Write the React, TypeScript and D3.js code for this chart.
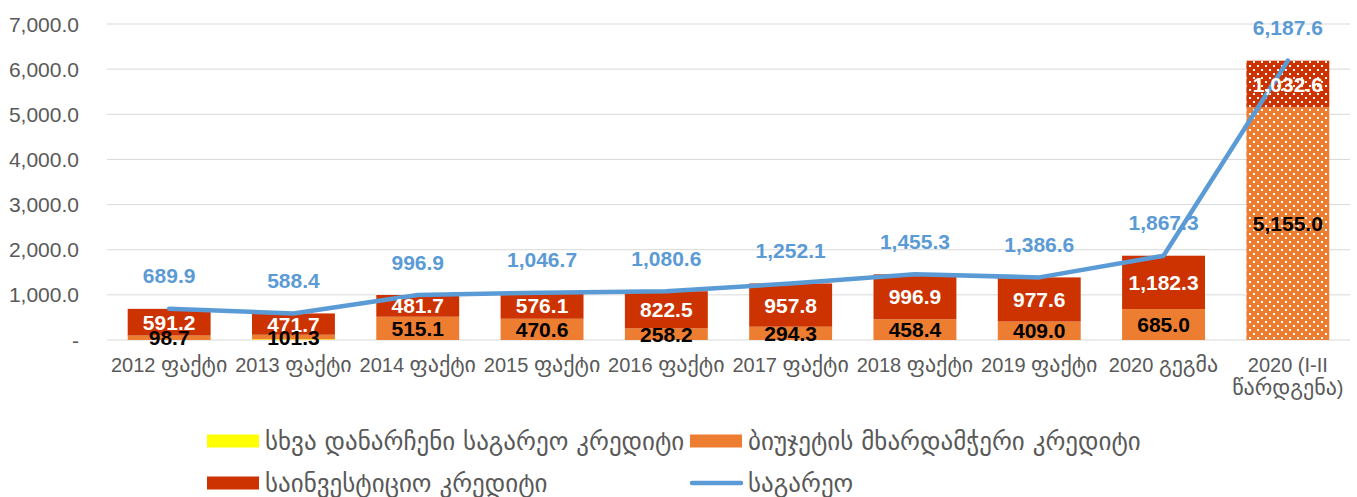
import React from "react";
import * as d3 from "d3";

const categories = [
  "2012 ფაქტი",
  "2013 ფაქტი",
  "2014 ფაქტი",
  "2015 ფაქტი",
  "2016 ფაქტი",
  "2017 ფაქტი",
  "2018 ფაქტი",
  "2019 ფაქტი",
  "2020 გეგმა",
  "2020 (I-II\nწარდგენა)",
];
const otherCredit = [0, 15.4, 0, 0, 0, 0, 0, 0, 0, 0];
const budgetCredit = [98.7, 101.3, 515.1, 470.6, 258.2, 294.3, 458.4, 409.0, 685.0, 5155.0];
const investCredit = [591.2, 471.7, 481.7, 576.1, 822.5, 957.8, 996.9, 977.6, 1182.3, 1032.6];
const totalExternal = [689.9, 588.4, 996.9, 1046.7, 1080.6, 1252.1, 1455.3, 1386.6, 1867.3, 6187.6];
const yTicks = [0, 1000, 2000, 3000, 4000, 5000, 6000, 7000];
const patternedIndex = [9];

const legendLabels = [
  "სხვა დანარჩენი საგარეო კრედიტი",
  "ბიუჯეტის მხარდამჭერი კრედიტი",
  "საინვესტიციო კრედიტი",
  "საგარეო",
];
const legendColors = ["#FFFF00", "#ED7D31", "#CC3300", "#5B9BD5"];
const legendTypes = ["rect", "rect", "rect", "line"];

const W = 1357;
const H = 497;
const FONT = "'Liberation Sans', Arial, 'DejaVu Sans', sans-serif";
const GEO_FONT = "'DejaVu Sans', sans-serif";
const fmt = d3.format(",.1f");

function runs(s: string) {
  const out: { t: string; geo: boolean }[] = [];
  for (const ch of s) {
    const geo = /[\u10A0-\u10FF]/.test(ch);
    const last = out[out.length - 1];
    if (last && last.geo === geo) last.t += ch;
    else out.push({ t: ch, geo });
  }
  return out;
}

export default function App() {
  const x = d3.scaleBand<string>().domain(categories).range([107, 1350]).paddingInner(0.333).paddingOuter(0.1665);
  const y = d3.scaleLinear().domain([0, 7000]).range([340, 24]);
  const bw = x.bandwidth();

  const seriesList = [
    { key: "other", values: otherCredit, color: "#FFFF00", labelColor: null as string | null },
    { key: "budget", values: budgetCredit, color: "#ED7D31", labelColor: "#000000" },
    { key: "invest", values: investCredit, color: "#CC3300", labelColor: "#FFFFFF" },
  ];
  const table = categories.map((c, i) => ({ c, other: otherCredit[i], budget: budgetCredit[i], invest: investCredit[i] }));
  const stack = d3.stack<any>().keys(seriesList.map((s) => s.key));
  const stacked = stack(table);
  const labelOrder = [2, 1];

  const cxOf = (i: number) => (x(categories[i]) as number) + bw / 2;
  const line = d3
    .line<number>()
    .x((_, i) => cxOf(i))
    .y((d) => y(d));

  return (
    <svg width={W} height={H} style={{ position: "absolute", left: 0, top: 0 }} fontFamily={FONT}>
      <defs>
        <pattern id="dots" width="8" height="8" patternUnits="userSpaceOnUse" x="0" y="0">
          <rect x="1" y="1" width="2" height="2" fill="#FFFFFF" />
          <rect x="5" y="5" width="2" height="2" fill="#FFFFFF" />
        </pattern>
      </defs>
      <rect width={W} height={H} fill="#FFFFFF" />
      {yTicks.map((t) => (
        <g key={t}>
          <line x1={107} x2={1350} y1={y(t)} y2={y(t)} stroke="#D9D9D9" strokeWidth={1} />
          <text x={79} y={y(t)} dy="0.36em" textAnchor="end" fontSize={21} fill="#595959">
            {t === 0 ? "-" : fmt(t)}
          </text>
        </g>
      ))}
      {stacked.map((layer, si) => {
        const s = seriesList[si];
        return (
          <g key={s.key}>
            {layer.map((d, i) => {
              const x0 = x(categories[i]) as number;
              const y0 = y(d[0]);
              const y1 = y(d[1]);
              const h = y0 - y1;
              if (h <= 0) return null;
              return (
                <g key={i}>
                  <rect x={x0} y={y1} width={bw} height={h} fill={s.color} />
                  {patternedIndex.includes(i) && <rect x={x0} y={y1} width={bw} height={h} fill="url(#dots)" />}
                </g>
              );
            })}
          </g>
        );
      })}
      <path d={line(totalExternal) as string} fill="none" stroke="#5B9BD5" strokeWidth={4.5} strokeLinejoin="round" strokeLinecap="round" />
      {labelOrder.map((si) => {
        const s = seriesList[si];
        const layer = stacked[si];
        return (
          <g key={s.key + "-lbl"}>
            {layer.map((d, i) => {
              const cy = (y(d[0]) + y(d[1])) / 2;
              return (
                <text key={i} x={cxOf(i)} y={cy} dy="0.36em" textAnchor="middle" fontSize={21} fontWeight="bold" fill={s.labelColor as string}>
                  {fmt(s.values[i])}
                </text>
              );
            })}
          </g>
        );
      })}
      {totalExternal.map((v, i) => (
        <text key={i} x={cxOf(i)} y={y(v) - 33} dy="0.36em" textAnchor="middle" fontSize={21} fontWeight="bold" fill="#5B9BD5">
          {fmt(v)}
        </text>
      ))}
      {categories.map((c, i) => {
        const lines = c.split("\n");
        return (
          <g key={c}>
            {lines.map((l, j) => (
              <text key={j} x={cxOf(i)} y={365 + j * 23} dy="0.36em" textAnchor="middle" fontSize={20} fill="#595959">
                {runs(l).map((r, k) =>
                  r.geo ? (
                    <tspan key={k} fontFamily={GEO_FONT} fontSize={22}>
                      {r.t}
                    </tspan>
                  ) : (
                    <tspan key={k}>{r.t}</tspan>
                  )
                )}
              </text>
            ))}
          </g>
        );
      })}
      {legendLabels.map((label, i) => {
        const lx = i % 2 === 0 ? 207 : 690;
        const ly = i < 2 ? 441 : 483;
        return (
          <g key={label}>
            {legendTypes[i] === "rect" ? (
              <rect x={lx} y={ly - 6.5} width={52} height={13} fill={legendColors[i]} />
            ) : (
              <line x1={lx + 2} x2={lx + 51} y1={ly} y2={ly} stroke={legendColors[i]} strokeWidth={4.5} strokeLinecap="round" />
            )}
            <text x={lx + 58} y={ly} dy="0.36em" fontSize={25} fontFamily={GEO_FONT} fill="#595959">
              {label}
            </text>
          </g>
        );
      })}
    </svg>
  );
}
